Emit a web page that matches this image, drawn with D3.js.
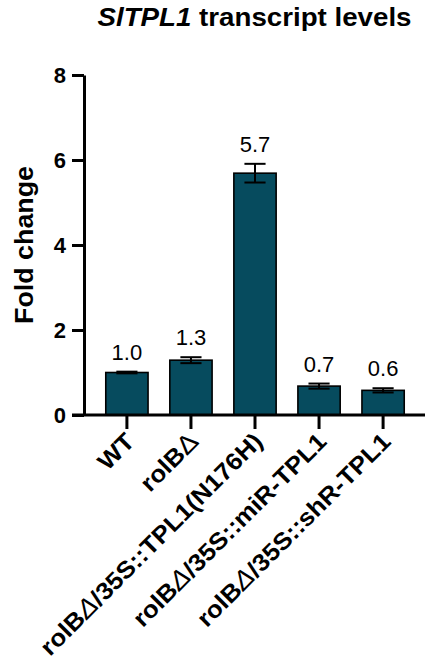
<!DOCTYPE html>
<html>
<head>
<meta charset="utf-8">
<script src="https://cdn.jsdelivr.net/npm/d3@7"></script>
<style>
  body { margin: 0; background: #fff; }
  svg text { font-family: 'Liberation Sans', Arial, sans-serif; }
</style>
</head>
<body>
<div id="chart"></div>
<script>
// data
const groups = ['WT', 'rolBD', 'TPL1N176H', 'miR', 'shR'];
const values = [1.0, 1.29, 5.69, 0.68, 0.58];
const errors = [0.02, 0.07, 0.22, 0.06, 0.05];
// label pieces: [text, style]  style: b = bold, d = thin delta, di = thin italic delta
const labelParts = [
    [['WT', 'b']],
    [['rolB', 'b'], ['Δ', 'd']],
    [['rolB', 'b'], ['Δ', 'di'], ['/35S::TPL1(N176H)', 'b']],
    [['rolB', 'b'], ['Δ', 'di'], ['/35S::miR-TPL1', 'b']],
    [['rolB', 'b'], ['Δ', 'di'], ['/35S::shR-TPL1', 'b']],
];
const yTicks = [0, 2, 4, 6, 8];

const width = 425;
const height = 670;
const marginLeft = 84;
const marginRight = -1;
const marginTop = 75;
const zeroY = 415;
const barColor = '#064b5e';

const svg = d3
    .select('#chart')
    .append('svg')
    .attr('width', width)
    .attr('height', height)
    .attr('viewBox', [0, 0, width, height]);

const x = d3
    .scaleBand()
    .domain(groups)
    .range([marginLeft, width - marginRight])
    .paddingInner(0.34)
    .paddingOuter(0.34);

const y = d3.scaleLinear().domain([0, 8]).range([zeroY, marginTop]);

// TITLE
svg.append('text')
    .attr('x', (marginLeft + width) / 2)
    .attr('y', 26)
    .attr('text-anchor', 'middle')
    .attr('font-size', 25)
    .attr('font-weight', 'bold')
    .attr('textLength', 314)
    .attr('lengthAdjust', 'spacingAndGlyphs')
    .call((t) => {
        t.append('tspan').attr('font-style', 'italic').text('SlTPL1');
        t.append('tspan').text(' transcript levels');
    });

// BARS
svg.append('g')
    .selectAll('rect')
    .data(groups)
    .join('rect')
    .attr('x', (d) => x(d))
    .attr('y', (d, i) => y(values[i]))
    .attr('width', x.bandwidth())
    .attr('height', (d, i) => y(0) - y(values[i]))
    .attr('fill', barColor)
    .attr('stroke', '#000')
    .attr('stroke-width', 1.6);

// ERROR BARS
const capW = x.bandwidth() / 2;
const err = svg.append('g').attr('stroke', '#000').attr('stroke-width', 2);
groups.forEach((g, i) => {
    const cx = x(g) + x.bandwidth() / 2;
    err.append('line')
        .attr('x1', cx)
        .attr('x2', cx)
        .attr('y1', y(values[i] - errors[i]))
        .attr('y2', y(values[i] + errors[i]));
    [values[i] - errors[i], values[i] + errors[i]].forEach((v) => {
        err.append('line')
            .attr('x1', cx - capW / 2)
            .attr('x2', cx + capW / 2)
            .attr('y1', y(v))
            .attr('y2', y(v));
    });
});

// VALUE LABELS
svg.append('g')
    .attr('text-anchor', 'middle')
    .attr('font-size', 22)
    .selectAll('text')
    .data(groups)
    .join('text')
    .attr('x', (d) => x(d) + x.bandwidth() / 2)
    .attr('y', (d, i) => y(values[i] + errors[i]) - 12)
    .text((d, i) => d3.format('.1f')(values[i]));

// Y AXIS
svg.append('g')
    .attr('transform', `translate(${marginLeft},0)`)
    .call(d3.axisLeft(y).tickValues(yTicks).tickSize(12).tickSizeOuter(0).tickPadding(6))
    .call((g) => g.select('.domain').attr('stroke-width', 3))
    .call((g) => g.selectAll('.tick line').attr('stroke-width', 3))
    .call((g) =>
        g.selectAll('.tick text')
            .attr('font-size', 22)
            .attr('font-weight', 'bold')
            .attr('fill', '#000')
            .attr('font-family', null)
    );

// X AXIS
svg.append('g')
    .attr('transform', `translate(0,${zeroY})`)
    .call(d3.axisBottom(x).tickSize(14).tickSizeOuter(0))
    .call((g) => g.select('.domain').attr('stroke-width', 3).attr('d', `M${marginLeft - 12},0H${width}`))
    .call((g) => g.selectAll('.tick line').attr('stroke-width', 3))
    .call((g) => g.selectAll('.tick text').remove());

// X LABELS (slightly widened glyphs, like the reference)
svg.append('g')
    .attr('font-size', 24)
    .attr('text-anchor', 'end')
    .selectAll('text')
    .data(groups)
    .join('text')
    .attr(
        'transform',
        (d) => `translate(${x(d) + x.bandwidth() / 2 + 9},${zeroY + 28}) rotate(-45) scale(1.08,1)`
    )
    .each(function (d, i) {
        const t = d3.select(this);
        labelParts[i].forEach(([txt, s]) => {
            const sp = t.append('tspan').text(txt);
            if (s === 'b') sp.attr('font-weight', 'bold');
            if (s === 'd' || s === 'di') sp.attr('font-weight', 'normal').attr('font-size', 26);
            if (s === 'di') sp.attr('font-style', 'italic');
        });
    });

// Y AXIS TITLE
svg.append('text')
    .attr('transform', `translate(33,${(zeroY + marginTop) / 2}) rotate(-90)`)
    .attr('text-anchor', 'middle')
    .attr('font-size', 25)
    .attr('font-weight', 'bold')
    .attr('textLength', 158)
    .attr('lengthAdjust', 'spacingAndGlyphs')
    .text('Fold change');
</script>
</body>
</html>
